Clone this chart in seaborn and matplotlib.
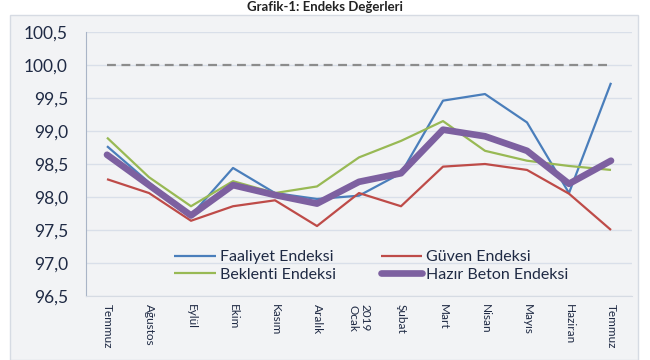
import matplotlib.pyplot as plt
import pandas as pd
import seaborn as sns
from matplotlib.patches import Rectangle

months = ['Temmuz', 'Ağustos', 'Eylül', 'Ekim', 'Kasım', 'Aralık', '2019\nOcak',
          'Şubat', 'Mart', 'Nisan', 'Mayıs', 'Haziran', 'Temmuz']
faaliyet = [98.77, 98.22, 97.72, 98.44, 98.06, 97.97, 98.02, 98.36, 99.46, 99.56, 99.13, 98.06, 99.73]
guven = [98.27, 98.06, 97.64, 97.86, 97.95, 97.56, 98.06, 97.86, 98.46, 98.50, 98.41, 98.05, 97.50]
beklenti = [98.90, 98.30, 97.86, 98.24, 98.06, 98.16, 98.60, 98.85, 99.15, 98.70, 98.55, 98.47, 98.41]
hazir_beton = [98.64, 98.18, 97.72, 98.18, 98.03, 97.90, 98.23, 98.36, 99.02, 98.92, 98.70, 98.20, 98.55]
reference = 100.0

series = {
    'Faaliyet Endeksi': faaliyet,
    'Güven Endeksi': guven,
    'Beklenti Endeksi': beklenti,
    'Hazır Beton Endeksi': hazir_beton,
}
colors = ['#4a7ebb', '#be4b48', '#98b954', '#7d60a0']
widths = [1.6, 1.6, 1.6, 4.8]

rows = []
for name, vals in series.items():
    for i, v in enumerate(vals):
        rows.append({'idx': i, 'value': v, 'seri': name})
df = pd.DataFrame(rows)

sns.set_style('white')
plt.rcParams['font.family'] = ['Lato', 'DejaVu Sans']

fig = plt.figure(figsize=(6.5, 3.6), dpi=100, facecolor='white')
fig.patches.append(Rectangle((10 / 650, 0), 628 / 650, 345 / 360, transform=fig.transFigure,
                             facecolor='#f2f3f5', edgecolor='#d6dbe3', lw=1, zorder=-5))
fig.text(0.5, 1 - 1 / 360, 'Grafik-1: Endeks Değerleri', ha='center', va='top',
         fontsize=9.5, fontweight='bold', color='#222222')

ax = fig.add_axes([86 / 650, 1 - 296 / 360, 546 / 650, 264 / 360])
ax.set_facecolor('none')
ax.set_zorder(2)

idx = list(range(len(months)))
ax.plot([idx[0], idx[-1]], [reference, reference], color='#8c8c8c', lw=1.6,
        dashes=(4, 2.5), zorder=1)

for (name, vals), c, w in zip(series.items(), colors, widths):
    sns.lineplot(data=df[df['seri'] == name], x='idx', y='value', color=c, lw=w,
                 label=name, ax=ax, zorder=3 if w > 2 else 2,
                 solid_capstyle='round' if w > 2 else 'butt')

ax.set_xlim(-0.5, len(months) - 0.5)
ax.set_ylim(96.5, 100.5)
ax.set_yticks([96.5 + 0.5 * k for k in range(9)])
ax.set_yticklabels([f'{96.5 + 0.5 * k:.1f}'.replace('.', ',') for k in range(9)],
                   fontsize=12.5, color='#1f2a44')
ax.set_xticks(idx)
ax.set_xticklabels(months, rotation=270, fontsize=8.5, color='#1f2a44', va='top', ha='center',
                   linespacing=1.0)
ax.set_xticks([i - 0.5 for i in range(len(months) + 1)], minor=True)
ax.tick_params(axis='x', which='major', length=0, pad=6)
ax.tick_params(axis='x', which='minor', length=4, color='#d6dbe3', direction='out')
ax.tick_params(axis='y', length=0, pad=13)
ax.grid(axis='y', color='#d9dfe9', lw=1)
ax.set_axisbelow(True)
ax.set_xlabel('')
ax.set_ylabel('')
for s in ['top', 'right']:
    ax.spines[s].set_visible(False)
ax.spines['left'].set_color('#a9b4c6')
ax.spines['bottom'].set_color('#d6dbe3')

handles, labels = ax.get_legend_handles_labels()
order = [0, 2, 1, 3]
ax.legend([handles[i] for i in order], [labels[i] for i in order], ncol=2, frameon=False,
          fontsize=11.5, loc='lower left', bbox_to_anchor=(74 / 546, 0.0),
          handlelength=2.6, handletextpad=0.25, columnspacing=2.8, labelspacing=0.2,
          labelcolor='#1f2a44')

fig.savefig('out.png', dpi=100)
